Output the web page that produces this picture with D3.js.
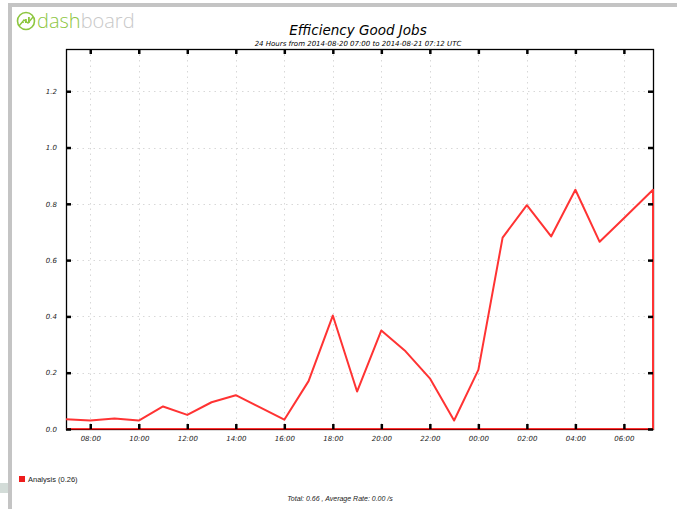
<!DOCTYPE html>
<html>
<head>
<meta charset="utf-8">
<script src="https://cdn.jsdelivr.net/npm/d3@7"></script>
<style>
  body { margin: 0; background: #fff; }
  svg text { font-family: "DejaVu Sans", sans-serif; }
</style>
</head>
<body>
<div id="chart"></div>
<script>
// Set width and height for SVG object
var svgWidth = 677;
var svgHeight = 509;

// chart data (hourly efficiency)
var times = [
  "2014-08-20 07:00", "2014-08-20 08:00", "2014-08-20 09:00", "2014-08-20 10:00",
  "2014-08-20 11:00", "2014-08-20 12:00", "2014-08-20 13:00", "2014-08-20 14:00",
  "2014-08-20 15:00", "2014-08-20 16:00", "2014-08-20 17:00", "2014-08-20 18:00",
  "2014-08-20 19:00", "2014-08-20 20:00", "2014-08-20 21:00", "2014-08-20 22:00",
  "2014-08-20 23:00", "2014-08-21 00:00", "2014-08-21 01:00", "2014-08-21 02:00",
  "2014-08-21 03:00", "2014-08-21 04:00", "2014-08-21 05:00", "2014-08-21 06:00",
  "2014-08-21 07:12"
];
var efficiency = [
  0.035, 0.030, 0.037, 0.030, 0.080, 0.050, 0.095, 0.120,
  0.077, 0.033, 0.170, 0.403, 0.133, 0.350, 0.276, 0.180,
  0.030, 0.210, 0.680, 0.795, 0.684, 0.850, 0.665, 0.749,
  0.850
];
var yTicks = [0.0, 0.2, 0.4, 0.6, 0.8, 1.0, 1.2];
var xTicks = [
  "2014-08-20 08:00", "2014-08-20 10:00", "2014-08-20 12:00", "2014-08-20 14:00",
  "2014-08-20 16:00", "2014-08-20 18:00", "2014-08-20 20:00", "2014-08-20 22:00",
  "2014-08-21 00:00", "2014-08-21 02:00", "2014-08-21 04:00", "2014-08-21 06:00"
];
var seriesLabel = "Analysis (0.26)";

var parseTime = d3.timeParse("%Y-%m-%d %H:%M");
var data = times.map((t, i) => ({ t: parseTime(t), v: efficiency[i] }));
var tickDates = xTicks.map(parseTime);

// plot area
var plot = { left: 66, right: 653, top: 49, bottom: 429 };
var lineColor = "#ff3333";

var svg = d3.select("#chart")
  .append("svg")
  .attr("width", svgWidth)
  .attr("height", svgHeight);

// panel frame
svg.append("rect").attr("x", 8).attr("y", 3).attr("width", svgWidth - 8).attr("height", 4).attr("fill", "#c4c4c4");
svg.append("rect").attr("x", 8).attr("y", 3).attr("width", 4).attr("height", svgHeight).attr("fill", "#c4c4c4");
svg.append("rect").attr("x", 0).attr("y", 483).attr("width", 8).attr("height", 10).attr("fill", "#d3dcd8");

// logo
var logo = svg.append("g").attr("transform", "translate(26, 21)");
logo.append("circle").attr("r", 8.5).attr("fill", "none").attr("stroke", "#8dc63f").attr("stroke-width", 1.6);
[[-4, 3, 5], [-1, 0, 8], [2, -2, 10]].forEach(function(b) {
  logo.append("rect").attr("x", b[0]).attr("y", b[1] - 2).attr("width", 1.8).attr("height", b[2] - 4).attr("fill", "#8dc63f");
});
logo.append("path").attr("d", "M-7,5 L-2,-1 L2,2 L7,-4").attr("fill", "none").attr("stroke", "#8dc63f").attr("stroke-width", 1.4);
var logoText = svg.append("text")
  .attr("x", 37).attr("y", 28)
  .attr("font-size", "20px")
  .style("font-family", "'Open Sans', sans-serif")
  .style("font-weight", 300);
logoText.append("tspan").attr("fill", "#8dc63f").text("dash");
logoText.append("tspan").attr("fill", "#c8c8c8").text("board");

// scales
var xScale = d3.scaleTime()
  .domain(d3.extent(data, d => d.t))
  .range([plot.left, plot.right]);

var yScale = d3.scaleLinear()
  .domain([0, 1.35])
  .range([plot.bottom, plot.top]);

// grid lines
var grid = svg.append("g").attr("stroke", "#d8d8d8").attr("stroke-width", 1).attr("stroke-dasharray", "1.5,4");
grid.selectAll(".vg").data(tickDates).enter().append("line")
  .attr("x1", d => Math.round(xScale(d)) + 0.5).attr("x2", d => Math.round(xScale(d)) + 0.5)
  .attr("y1", plot.top).attr("y2", plot.bottom);
grid.selectAll(".hg").data(yTicks.slice(1)).enter().append("line")
  .attr("y1", d => Math.round(yScale(d)) + 0.5).attr("y2", d => Math.round(yScale(d)) + 0.5)
  .attr("x1", plot.left).attr("x2", plot.right);

// series: line closed down to the baseline
var last = data[data.length - 1];
var first = data[0];
var lineGen = d3.line().x(d => xScale(d.t)).y(d => yScale(d.v));
var pathD = lineGen(data) +
  "L" + xScale(last.t) + "," + yScale(0) +
  "L" + xScale(first.t) + "," + yScale(0);

// axes box
svg.append("rect")
  .attr("x", plot.left + 0.5).attr("y", plot.top + 0.5)
  .attr("width", plot.right - plot.left).attr("height", plot.bottom - plot.top)
  .attr("fill", "none").attr("stroke", "#000").attr("stroke-width", 1.3);

svg.append("path")
  .attr("d", pathD)
  .attr("fill", "none")
  .attr("stroke", lineColor)
  .attr("stroke-width", 2)
  .attr("stroke-linejoin", "round");

// baseline shows darker where the series sits on the axis
svg.append("line")
  .attr("x1", plot.left).attr("x2", plot.right)
  .attr("y1", yScale(0) + 0.5).attr("y2", yScale(0) + 0.5)
  .attr("stroke", "#8b0000").attr("stroke-width", 1);

// axes with inward ticks on all sides
var bottomAxis = d3.axisBottom(xScale).tickValues(tickDates).tickFormat(d3.timeFormat("%H:%M")).tickSize(-5).tickPadding(7);
var topAxis = d3.axisTop(xScale).tickValues(tickDates).tickFormat("").tickSize(-5);
var leftAxis = d3.axisLeft(yScale).tickValues(yTicks).tickFormat(d3.format(".1f")).tickSize(-5).tickPadding(9);
var rightAxis = d3.axisRight(yScale).tickValues(yTicks).tickFormat("").tickSize(-5);

function styleAxis(g) {
  g.select(".domain").remove();
  g.selectAll(".tick line").attr("stroke", "#000").attr("stroke-width", 2.5);
  g.selectAll(".tick text")
    .attr("font-size", "7px")
    .attr("font-style", "italic")
    .attr("fill", "#222")
    .style("font-family", "'DejaVu Sans', sans-serif");
}

svg.append("g").attr("transform", `translate(0, ${plot.bottom})`).call(bottomAxis).call(styleAxis);
svg.append("g").attr("transform", `translate(0, ${plot.top})`).call(topAxis).call(styleAxis);
svg.append("g").attr("transform", `translate(${plot.left}, 0)`).call(leftAxis).call(styleAxis);
svg.append("g").attr("transform", `translate(${plot.right}, 0)`).call(rightAxis).call(styleAxis);

// title
svg.append("text")
  .attr("x", 358).attr("y", 35)
  .attr("text-anchor", "middle")
  .attr("font-size", "13.5px")
  .attr("font-style", "italic")
  .attr("fill", "#000")
  .text("Efficiency Good Jobs");

svg.append("text")
  .attr("x", 358).attr("y", 46)
  .attr("text-anchor", "middle")
  .attr("font-size", "7px")
  .attr("font-style", "italic")
  .attr("fill", "#000")
  .text("24 Hours from 2014-08-20 07:00 to 2014-08-21 07:12 UTC");

// legend
svg.append("rect").attr("x", 19).attr("y", 476).attr("width", 6).attr("height", 6).attr("fill", "#ee1c1c");
svg.append("text")
  .attr("x", 28).attr("y", 482)
  .attr("font-size", "7.5px")
  .attr("fill", "#222")
  .style("font-family", "'Liberation Sans', sans-serif")
  .text(seriesLabel);

// footer
svg.append("text")
  .attr("x", 340).attr("y", 501)
  .attr("text-anchor", "middle")
  .attr("font-size", "7px")
  .attr("font-style", "italic")
  .attr("fill", "#222")
  .style("font-family", "'Liberation Sans', sans-serif")
  .text("Total: 0.66 , Average Rate: 0.00 /s");
</script>
</body>
</html>
